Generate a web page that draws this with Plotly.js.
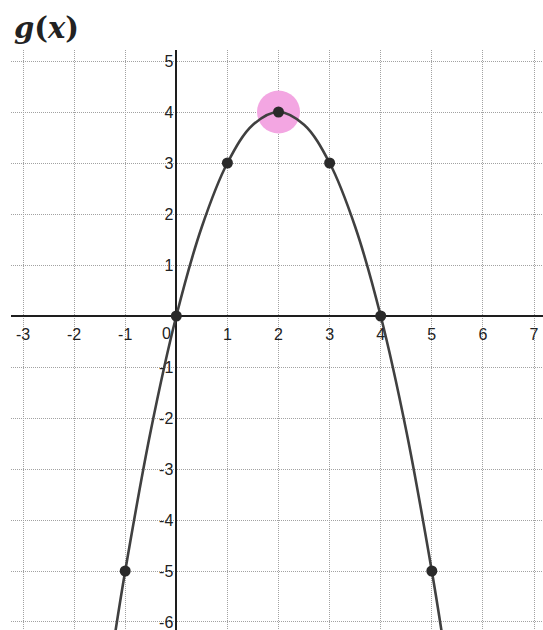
<!DOCTYPE html>
<html>
<head>
<meta charset="utf-8">
<script src="https://cdn.plot.ly/plotly-3.0.1.min.js"></script>
<style>html,body{margin:0;padding:0;background:#fff;}#chart{width:543px;height:630px;}</style>
</head>
<body>
<div id="chart"></div>
<script>
// Marked points of g(x)
var pointX = [-1, 0, 1, 2, 3, 4, 5];
var pointY = [-5, 0, 3, 4, 3, 0, -5];
// Curve points (curve leaves the view at the bottom)
var curveX = [-1.2, -1, -0.5, 0, 0.5, 1, 1.5, 2, 2.5, 3, 3.5, 4, 4.5, 5, 5.2];
var curveY = [-6.24, -5, -2.25, 0, 1.75, 3, 3.75, 4, 3.75, 3, 1.75, 0, -2.25, -5, -6.24];
// Highlighted vertex
var vertexX = [2];
var vertexY = [4];
// Tick labels
var xTickVals = [-3, -2, -1, 1, 2, 3, 4, 5, 6, 7];
var xTickText = ['-3', '-2', '-1', '1', '2', '3', '4', '5', '6', '7'];
var yTickVals = [-6, -5, -4, -3, -2, -1, 1, 2, 3, 4, 5];
var yTickText = ['-6', '-5', '-4', '-3', '-2', '-1', '1', '2', '3', '4', '5'];
var originLabel = '0';
var titleText = '<b><i>g</i>(<i>x</i>)</b>';

var xRange = [-3.235, 7.176];
var yRange = [-6.157, 5.216];
var xZeroPos = (0 - xRange[0]) / (xRange[1] - xRange[0]);
var yZeroPos = (0 - yRange[0]) / (yRange[1] - yRange[0]);

var traces = [
  {x: vertexX, y: vertexY, type: 'scatter', mode: 'markers',
   marker: {size: 43, color: '#f3a6e2', line: {width: 0}}, hoverinfo: 'skip'},
  {x: curveX, y: curveY, type: 'scatter', mode: 'lines',
   line: {color: '#404040', width: 2.6, shape: 'spline', smoothing: 1}, hoverinfo: 'skip'},
  {x: pointX, y: pointY, type: 'scatter', mode: 'markers',
   marker: {size: 11, color: '#2a2a2a', line: {width: 0}}, hoverinfo: 'skip'}
];

var tickFont = {family: 'Liberation Sans, Arial, sans-serif', size: 16, color: '#222'};

var layout = {
  width: 543, height: 630,
  margin: {l: 11, r: 0, t: 50, b: 0, pad: 0},
  paper_bgcolor: '#fff', plot_bgcolor: '#fff',
  showlegend: false,
  xaxis: {
    range: xRange, anchor: 'free', position: yZeroPos,
    tickvals: xTickVals, ticktext: xTickText, ticks: '', ticklabelstandoff: 7,
    ticklabeloverflow: 'allow',
    tickfont: tickFont,
    showgrid: true, gridcolor: '#a2a2a2', gridwidth: 1, griddash: '1px,1px',
    zeroline: true, zerolinecolor: '#1e1e1e', zerolinewidth: 2,
    showline: false, fixedrange: true
  },
  yaxis: {
    range: yRange, anchor: 'free', position: xZeroPos, side: 'left',
    tickvals: yTickVals, ticktext: yTickText, ticks: '', ticklabelstandoff: 3,
    ticklabeloverflow: 'allow',
    tickfont: tickFont,
    showgrid: true, gridcolor: '#a2a2a2', gridwidth: 1, griddash: '1px,1px',
    zeroline: true, zerolinecolor: '#1e1e1e', zerolinewidth: 2,
    showline: false, fixedrange: true
  },
  annotations: [
    {x: 0, y: 0, xref: 'x', yref: 'y', text: originLabel, showarrow: false,
     xanchor: 'center', yanchor: 'top', xshift: -10, yshift: -7, font: tickFont},
    {x: 0, y: 1, xref: 'paper', yref: 'paper', text: titleText, showarrow: false,
     xanchor: 'left', yanchor: 'bottom', xshift: 1, yshift: 3,
     font: {family: 'DejaVu Serif, Liberation Serif, serif', size: 29, color: '#222'}}
  ]
};

Plotly.newPlot('chart', traces, layout, {displayModeBar: false, staticPlot: true});
</script>
</body>
</html>
